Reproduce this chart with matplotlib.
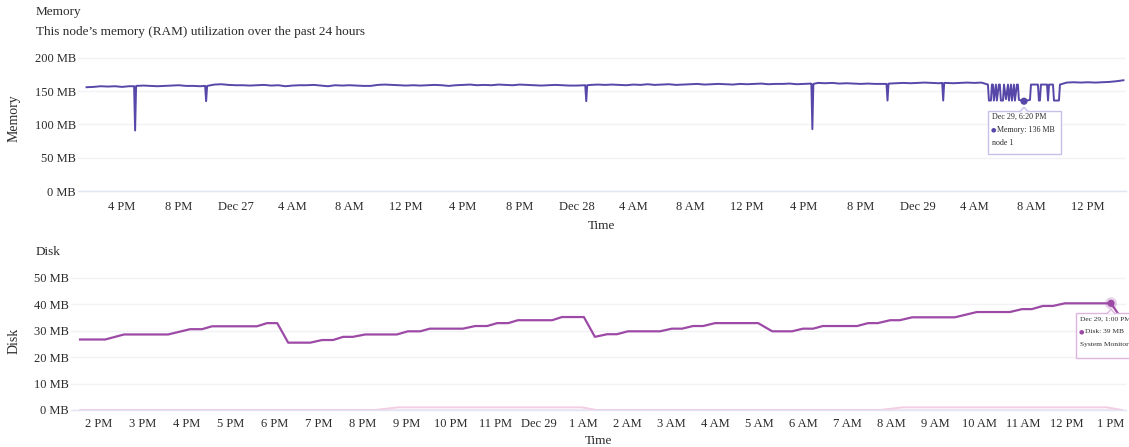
import matplotlib
matplotlib.use('Agg')
import matplotlib.pyplot as plt
import matplotlib.dates as mdates
from matplotlib.patches import Rectangle, Polygon, Circle
from matplotlib.transforms import IdentityTransform
import pandas as pd

plt.rcParams['font.family'] = ['Liberation Serif', 'DejaVu Serif', 'DejaVu Sans']

# ---- Memory data (MB), 30 min samples from Dec 26 1:30 PM ----
mem_start = pd.Timestamp('2024-12-26 13:30')
mem_base_values = [
    156, 156.5, 157.5, 157, 157.5, 156.5, 157.5,
    158, 158.5, 158, 157.5, 158, 158.5, 159, 158, 158, 157.5, 158,
    160, 160.5, 159.5, 159, 159, 158.5, 159, 159.5, 158.5, 159, 157.5, 158.5, 159, 159,
    159.5, 158.5, 157.5, 159, 158.5, 159, 158.5, 158, 158, 159.5, 160, 159.5, 159, 158.5,
    159, 158.5, 159, 159.5, 159, 158, 159, 159.5, 160, 159, 159.5, 159, 160, 159.5, 159,
    160, 159.5, 159, 158.5, 159, 159.5, 159, 158.5, 158.5, 159,
    159.5, 160, 159.5, 160, 159.5, 159, 160, 159.5, 160.5, 159.5, 160, 160.5, 159.5, 160,
    160.5, 161, 160, 160.5, 161, 160.5, 160, 161, 160.5, 161, 161.5, 160.5, 161,
    161, 161.5, 160.5, 161, 161.5,
    162.5, 162, 162.5, 161.5, 162, 161.5, 161, 161.5, 161, 161, 161.5,
    162, 162.5, 162, 162.5, 163, 162.5, 162, 162.5, 162, 162.5, 163, 162.5, 163,
    162, 162, 162, 162, 162, 162, 162, 162, 162, 162, 162,
    163, 163.5, 163, 163.5, 163, 163.5, 164, 165, 166.5,
]

# short drops (hours after Dec 26 00:00)
dip_hours = [16.92, 21.92, 48.68, 64.60, 69.89, 73.81]
dip_depths = [91, 135, 135, 93, 136, 136]
dip_levels = [157.5, 158, 159, 161, 161, 162.5]

# on/off burst on Dec 29 morning
burst_hours = [76.96, 77.03, 77.17, 77.24, 77.31, 77.38, 77.52, 77.59, 77.73, 77.80,
               77.87, 78.02, 78.09, 78.23, 78.37, 78.44, 78.58, 78.65, 78.79, 78.86,
               79.00, 79.07, 79.14, 79.50, 79.92, 79.99, 80.48, 80.55, 80.62, 80.69,
               81.12, 81.19, 81.26, 81.54, 81.61, 81.96, 82.03]
burst_values = [160, 136, 136, 160, 160, 136, 160, 136, 160, 160,
                136, 136, 160, 138, 160, 136, 160, 136, 160, 136,
                160, 160, 137, 135, 137, 160, 160, 136, 136, 160,
                160, 136, 160, 160, 136, 136, 160]
mem_tip_hour = 79.50

# ---- Disk data (MB), hours after Dec 28 00:00 ----
disk_hours = [13.57, 14.14, 14.57, 15.57, 16.07, 16.34, 16.57, 17.59, 17.82, 18.05,
              18.30, 18.80, 19.07, 19.32, 19.55, 19.77, 20.05, 20.77, 21.02, 21.30,
              21.52, 22.27, 22.55, 22.82, 23.05, 23.30, 23.52, 24.30, 24.52, 25.02,
              25.27, 25.55, 25.77, 26.02, 26.75, 27.02, 27.25, 27.50, 27.73, 28.00,
              28.98, 29.30, 29.75, 30.00, 30.23, 30.45, 31.23, 31.48, 31.70, 31.98,
              32.20, 32.48, 33.45, 33.95, 34.70, 34.98, 35.20, 35.45, 35.68, 35.95,
              37.00, 37.16]
disk_values = [26.7, 26.7, 28.6, 28.6, 30.6, 30.6, 31.7, 31.7, 32.9, 32.9,
               25.5, 25.5, 26.5, 26.5, 27.7, 27.7, 28.6, 28.6, 29.8, 29.8,
               30.8, 30.8, 31.8, 31.8, 32.9, 32.9, 34.0, 34.0, 35.2, 35.2,
               27.7, 28.7, 28.7, 29.8, 29.8, 30.8, 30.8, 31.8, 31.8, 32.9,
               32.9, 29.8, 29.8, 30.8, 30.8, 31.8, 31.8, 32.9, 32.9, 34.0,
               34.0, 35.1, 35.1, 37.1, 37.1, 38.2, 38.2, 39.4, 39.4, 40.4,
               40.4, 36.5]
disk_tip_hour = 37.00

# faint second series near zero
faint_hours = [13.57, 20.27, 20.80, 24.98, 25.30, 31.75, 32.27, 36.90, 37.25]
faint_values = [0, 0, 1, 1, 0, 0, 1, 1, 0]
flat_hours = [13.57, 37.25]
flat_values = [0, 0]

mem_y_ticks = [0, 50, 100, 150, 200]
disk_y_ticks = [0, 10, 20, 30, 40, 50]

MEM_COLOR = '#5747a8'
DISK_COLOR = '#9c4aa6'
TEXT = '#2b2b2b'

# ---- build the memory series ----
day0 = pd.Timestamp('2024-12-26')
day1 = pd.Timestamp('2024-12-28')
hrs = lambda base, h: base + pd.to_timedelta(h, unit='h')

base_t = pd.date_range(mem_start, periods=len(mem_base_values), freq='30min')
mem = pd.Series(mem_base_values, index=base_t)
lo, hi = hrs(day0, burst_hours[0] - 0.05), hrs(day0, burst_hours[-1] + 0.05)
mem = mem[(mem.index < lo) | (mem.index > hi)]
parts = [mem]
for h, d, lv in zip(dip_hours, dip_depths, dip_levels):
    parts.append(pd.Series([lv, d, lv], index=[hrs(day0, h - 0.07), hrs(day0, h), hrs(day0, h + 0.07)]))
burst = pd.Series(burst_values, index=[hrs(day0, h) for h in burst_hours])
parts.append(burst)
mem = pd.concat(parts).sort_index()

disk = pd.Series(disk_values, index=[hrs(day1, h) for h in disk_hours])
faint = pd.Series(faint_values, index=[hrs(day1, h) for h in faint_hours])
flat = pd.Series(flat_values, index=[hrs(day1, h) for h in flat_hours])

# ---- figure ----
W, H = 1129, 447
fig = plt.figure(figsize=(W / 100, H / 100), dpi=100)


def px_axes(l, t, r, b):
    return fig.add_axes([l / W, 1 - b / H, (r - l) / W, (b - t) / H])


def fmt_time(x, pos=None):
    d = mdates.num2date(x)
    if d.hour == 0:
        return f"{d.strftime('%b')} {d.day}"
    h = d.hour % 12 or 12
    return f"{h} {'AM' if d.hour < 12 else 'PM'}"


def style(ax, yticks, label_pad):
    for s in ['top', 'right', 'left']:
        ax.spines[s].set_visible(False)
    ax.spines['bottom'].set_color('#e2e5f3')
    ax.spines['bottom'].set_linewidth(1)
    ax.set_yticks(yticks)
    ax.set_yticklabels([f"{v} MB" for v in yticks])
    ax.yaxis.grid(True, color='#f1f1f6', lw=1)
    ax.set_axisbelow(True)
    ax.tick_params(axis='both', length=0, labelsize=9, colors=TEXT)
    ax.tick_params(axis='y', pad=1.5)
    ax.tick_params(axis='x', pad=label_pad)
    ax.xaxis.set_major_formatter(plt.FuncFormatter(fmt_time))


ax1 = px_axes(78, 55.3, 1126, 191)
ax1.plot(mem.index, mem.values, color=MEM_COLOR, lw=1.4)
ax1.set_ylim(0, 204)
ax1.set_xlim(hrs(day0, 12.9), hrs(day0, 86.68))
ax1.xaxis.set_major_locator(mdates.HourLocator(byhour=[0, 4, 8, 12, 16, 20]))
style(ax1, mem_y_ticks, 7)
ax1.set_xlabel('Time', fontsize=9.5, color=TEXT, labelpad=5.5)

ax2 = px_axes(71, 274, 1126, 410)
ax2.plot(flat.index, flat.values, color='#efe3f3', lw=1.2, clip_on=False)
ax2.plot(faint.index, faint.values, color='#f3cde3', lw=1.4, clip_on=False)
ax2.plot(disk.index, disk.values, color=DISK_COLOR, lw=1.6)
ax2.set_ylim(0, 51.5)
ax2.set_xlim(hrs(day1, 13.364), hrs(day1, 37.34))
ax2.xaxis.set_major_locator(mdates.HourLocator())
style(ax2, disk_y_ticks, 5.5)
ax2.set_xlabel('Time', fontsize=9.5, color=TEXT, labelpad=3.5)

# titles and axis names
fig.text(36 / W, 1 - 12 / H, 'Memory', fontsize=9.5, color=TEXT, va='center')
fig.text(36 / W, 1 - 32 / H, 'This node\u2019s memory (RAM) utilization over the past 24 hours',
         fontsize=9.5, color=TEXT, va='center')
fig.text(36 / W, 1 - 252 / H, 'Disk', fontsize=9.5, color=TEXT, va='center')
fig.text(14 / W, 1 - 118 / H, 'Memory', fontsize=10, color=TEXT, rotation=90, ha='center', va='center')
fig.text(14 / W, 1 - 341 / H, 'Disk', fontsize=10, color=TEXT, rotation=90, ha='center', va='center')


def tooltip(ax, when, value, lines, color, edge, dx=-36, dy=10, w=73, h=43, halo=False, fs=5.8):
    px, py = ax.transData.transform((mdates.date2num(when), value))
    ident = IdentityTransform()
    if halo:
        fig.add_artist(Circle((px, py), 6, transform=ident, fc=color, alpha=0.25, ec='none', zorder=6))
    fig.add_artist(Circle((px, py), 3.6, transform=ident, fc=color, ec='none', zorder=7))
    top = py - dy
    fig.add_artist(Rectangle((px + dx, top - h), w, h, transform=ident,
                             fc='white', ec=edge, lw=1, zorder=8))
    fig.add_artist(Polygon([(px - 4, top - 0.5), (px, top + 4), (px + 4, top - 0.5)], closed=False,
                           transform=ident, fc='white', ec=edge, lw=1, zorder=9))
    x0 = px + dx + 4
    fig.text(x0, top - 5.5, lines[0], transform=ident, fontsize=fs, color=TEXT, va='center', zorder=10)
    fig.text(x0 - 1, top - 18.5, '\u25cf', transform=ident, fontsize=4.5, color=color,
             va='center', zorder=10, family=['DejaVu Sans'])
    fig.text(x0 + 4.5, top - 18.5, lines[1], transform=ident, fontsize=fs, color=TEXT, va='center', zorder=10)
    fig.text(x0, top - 31.5, lines[2], transform=ident, fontsize=fs, color=TEXT, va='center', zorder=10)


t_mem = hrs(day0, mem_tip_hour)
tooltip(ax1, t_mem, mem[t_mem], ['Dec 29, 6:20 PM', 'Memory: 136 MB', 'node 1'],
        MEM_COLOR, '#c9bfe8')
t_disk = hrs(day1, disk_tip_hour)
tooltip(ax2, t_disk, disk[t_disk], ['Dec 29, 1:00 PM', 'Disk: 39 MB', 'System Monitor'],
        DISK_COLOR, '#dcb6e0', dx=-35, h=45, halo=True, fs=5.4)

fig.savefig('out.png', dpi=100)
